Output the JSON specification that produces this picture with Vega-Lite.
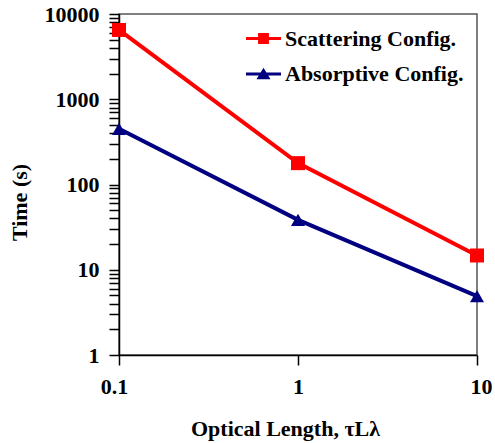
{
  "$schema": "https://vega.github.io/schema/vega-lite/v6.json",
  "width": 358,
  "height": 341,
  "autosize": {"type": "none"},
  "padding": {"left": 119, "top": 14, "right": 18, "bottom": 88},
  "background": "white",
  "config": {
    "view": {"stroke": "#555555", "strokeWidth": 1.5},
    "font": "Liberation Serif"
  },
  "data": {
    "values": [
      {"length": 0.1, "time": 6500, "series": "Scattering Config."},
      {"length": 1, "time": 178, "series": "Scattering Config."},
      {"length": 10, "time": 14.7, "series": "Scattering Config."},
      {"length": 0.1, "time": 450, "series": "Absorptive Config."},
      {"length": 1, "time": 38.5, "series": "Absorptive Config."},
      {"length": 10, "time": 4.9, "series": "Absorptive Config."}
    ]
  },
  "encoding": {
    "x": {
      "field": "length",
      "type": "quantitative",
      "scale": {"type": "log", "domain": [0.1, 10], "nice": false},
      "axis": {
        "values": [0.1, 1, 10],
        "format": "~g",
        "grid": false,
        "ticks": true,
        "title": "Optical Length, τLλ",
        "titleFont": "Liberation Serif",
        "titleFontSize": 22,
        "titleFontWeight": "bold",
        "titleColor": "black",
        "titleX": 166,
        "titleY": 80,
        "titleBaseline": "alphabetic",
        "titleAnchor": "middle",
        "titleAlign": "center",
        "labelFont": "Liberation Serif",
        "labelFontSize": 22,
        "labelFontWeight": "bold",
        "labelColor": "black",
        "labelPadding": 11,
        "labelOffset": {"condition": [{"test": "datum.value < 0.5", "value": -5}, {"test": "datum.value > 5", "value": 4}], "value": 0},
        "labelFlush": false,
        "labelOverlap": false,
        "tickSize": 10,
        "tickWidth": 1.5,
        "tickColor": "black",
        "domainColor": "black",
        "domainWidth": 1.5
      }
    },
    "y": {
      "field": "time",
      "type": "quantitative",
      "scale": {"type": "log", "domain": [1, 10000], "nice": false},
      "axis": {
        "values": [1, 2, 3, 4, 5, 6, 7, 8, 9, 10, 20, 30, 40, 50, 60, 70, 80, 90, 100, 200, 300, 400, 500, 600, 700, 800, 900, 1000, 2000, 3000, 4000, 5000, 6000, 7000, 8000, 9000, 10000],
        "format": "d",
        "labelExpr": "indexof([1, 10, 100, 1000, 10000], datum.value) >= 0 ? datum.label : ''",
        "grid": false,
        "ticks": true,
        "title": "Time (s)",
        "titleFont": "Liberation Serif",
        "titleFontSize": 22,
        "titleFontWeight": "bold",
        "titleColor": "black",
        "titleAngle": 270,
        "titleX": -100,
        "titleY": 188,
        "titleBaseline": "middle",
        "titleAlign": "center",
        "labelFont": "Liberation Serif",
        "labelFontSize": 22,
        "labelFontWeight": "bold",
        "labelColor": "black",
        "labelPadding": 10,
        "labelFlush": false,
        "labelOverlap": false,
        "tickSize": 10,
        "tickWidth": 1.5,
        "tickColor": "black",
        "domainColor": "black",
        "domainWidth": 1.5
      }
    },
    "color": {
      "field": "series",
      "type": "nominal",
      "scale": {"domain": ["Scattering Config.", "Absorptive Config."], "range": ["#FF0000", "#000080"]},
      "legend": {
        "orient": "none",
        "legendX": 127,
        "legendY": 7,
        "title": null,
        "padding": 0,
        "labelFont": "Liberation Serif",
        "labelFontSize": 22,
        "labelFontWeight": "bold",
        "labelColor": "black",
        "labelLimit": 400,
        "labelOffset": 4,
        "symbolSize": 1225,
        "rowPadding": 6.5,
        "encode": {
          "symbols": {
            "update": {
              "shape": {"signal": "datum.value === 'Scattering Config.' ? 'M-1,-0.086H1V0.086H-1Z M-0.31,-0.31H0.31V0.31H-0.31Z' : 'M-1,-0.086H1V0.086H-1Z M0,-0.36L0.4,0.3H-0.4Z'"},
              "fill": {"signal": "datum.value === 'Scattering Config.' ? '#FF0000' : '#000080'"},
              "stroke": {"value": "transparent"},
              "strokeWidth": {"value": 0},
              "opacity": {"value": 1},
              "fillOpacity": {"value": 1}
            }
          }
        }
      }
    }
  },
  "layer": [
    {"mark": {"type": "line", "strokeWidth": 4}},
    {
      "transform": [{"filter": "datum.series === 'Scattering Config.'"}],
      "mark": {"type": "point", "filled": true, "opacity": 1, "size": 196, "shape": "square"}
    },
    {
      "transform": [{"filter": "datum.series === 'Absorptive Config.'"}],
      "mark": {"type": "point", "filled": true, "opacity": 1, "size": 196, "shape": "triangle-up"}
    }
  ]
}
